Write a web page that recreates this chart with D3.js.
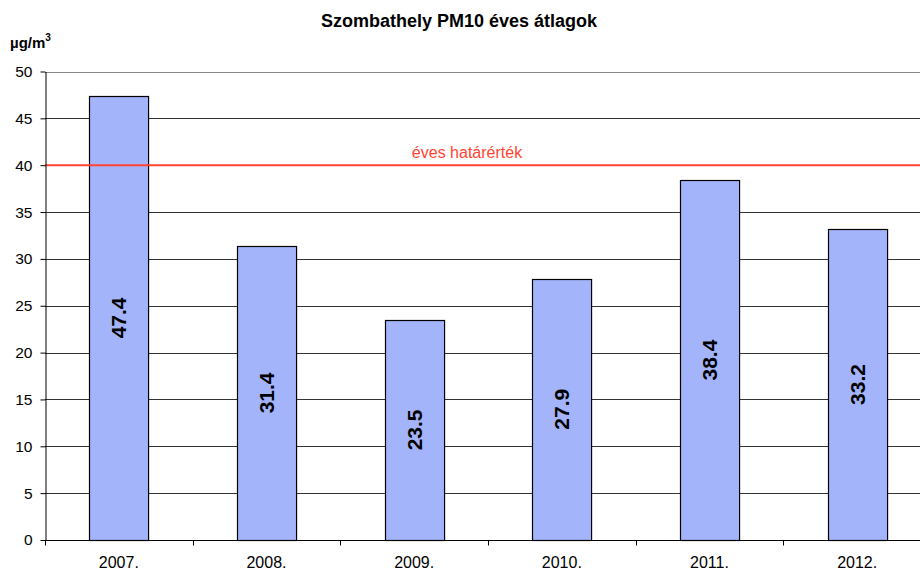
<!DOCTYPE html>
<html>
<head>
<meta charset="utf-8">
<script src="https://cdn.jsdelivr.net/npm/d3@7"></script>
<style>
  body { margin: 0; background: #fff; }
  text { font-family: "Liberation Sans", Arial, sans-serif; }
</style>
</head>
<body>
<svg width="920" height="571"></svg>
<script>
var years = ["2007.", "2008.", "2009.", "2010.", "2011.", "2012."];
var values = [47.4, 31.4, 23.5, 27.9, 38.4, 33.2];
var yTicks = [0, 5, 10, 15, 20, 25, 30, 35, 40, 45, 50];
var limitValue = 40;
var limitLabel = "éves határérték";

var svg = d3.select("svg");
var plotLeft = 45, plotRight = 931, plotTop = 71.5, plotBottom = 540;

var x = d3.scaleBand()
    .domain(years)
    .range([plotLeft, plotRight])
    .paddingInner(0.6)
    .paddingOuter(0.3);

var y = d3.scaleLinear()
    .domain([0, 50])
    .range([plotBottom, plotTop]);

// title
svg.append("text")
    .attr("x", 459)
    .attr("y", 27)
    .attr("text-anchor", "middle")
    .style("font-size", "18px")
    .style("font-weight", "bold")
    .text("Szombathely PM10 éves átlagok");

// unit
var unit = svg.append("text")
    .attr("x", 10)
    .attr("y", 48)
    .style("font-size", "15px")
    .style("font-weight", "bold");
unit.append("tspan").text("µg/m");
unit.append("tspan").attr("dy", -7).style("font-size", "10px").text("3");

// gridlines
svg.append("g")
    .selectAll("line")
    .data(yTicks.filter(d => d > 0))
    .enter().append("line")
    .attr("x1", plotLeft)
    .attr("x2", 920)
    .attr("y1", d => Math.round(y(d)) + 0.5)
    .attr("y2", d => Math.round(y(d)) + 0.5)
    .attr("stroke", d => d === 50 ? "#888" : "#333")
    .attr("stroke-width", 1);

// bars
svg.append("g")
    .selectAll("rect")
    .data(values)
    .enter().append("rect")
    .attr("x", (d, i) => Math.round(x(years[i])) + 0.5)
    .attr("y", d => Math.round(y(d)) + 0.5)
    .attr("width", x.bandwidth())
    .attr("height", d => Math.round(y(0)) - Math.round(y(d)))
    .attr("fill", "#a4b4fa")
    .attr("stroke", "#000")
    .attr("stroke-width", 1.2);

// value labels
svg.append("g")
    .selectAll("text")
    .data(values)
    .enter().append("text")
    .attr("transform", (d, i) => {
        var cx = x(years[i]) + x.bandwidth() / 2;
        var cy = (y(d) + y(0)) / 2;
        return "translate(" + cx + "," + cy + ") rotate(-90)";
    })
    .attr("text-anchor", "middle")
    .attr("dy", "0.35em")
    .style("font-size", "21px")
    .style("font-weight", "bold")
    .text(d => d.toFixed(1));

// limit line
svg.append("line")
    .attr("x1", plotLeft)
    .attr("x2", 920)
    .attr("y1", y(limitValue))
    .attr("y2", y(limitValue))
    .attr("stroke", "#ff4433")
    .attr("stroke-width", 2);

svg.append("text")
    .attr("x", 467)
    .attr("y", y(limitValue) - 7)
    .attr("text-anchor", "middle")
    .attr("fill", "#ff4433")
    .style("font-size", "16px")
    .text(limitLabel);

// y axis
var yAxis = svg.append("g")
    .attr("transform", "translate(" + (plotLeft + 0.5) + ",0)")
    .call(d3.axisLeft(y).tickValues(yTicks).tickSize(5).tickSizeOuter(0));
yAxis.select(".domain").attr("stroke", "#000");
yAxis.selectAll(".tick line").attr("stroke", "#000");
yAxis.selectAll(".tick text")
    .attr("x", -13)
    .style("font-size", "15.5px")
    .style("font-family", "Liberation Sans, Arial, sans-serif")
    .attr("fill", "#000");

// x axis
var xg = svg.append("g")
    .attr("transform", "translate(0," + (Math.round(y(0)) + 0.5) + ")");
xg.append("line")
    .attr("x1", plotLeft)
    .attr("x2", 920)
    .attr("stroke", "#000");
xg.selectAll("line.tk")
    .data(years)
    .enter().append("line")
    .attr("class", "tk")
    .attr("x1", d => Math.round(x(d) - x.step() * 0.3) + 0.5)
    .attr("x2", d => Math.round(x(d) - x.step() * 0.3) + 0.5)
    .attr("y1", 0)
    .attr("y2", 5)
    .attr("stroke", "#000");
xg.selectAll("text")
    .data(years)
    .enter().append("text")
    .attr("x", d => x(d) + x.bandwidth() / 2)
    .attr("y", 27.5)
    .attr("text-anchor", "middle")
    .style("font-size", "16px")
    .text(d => d);
</script>
</body>
</html>
